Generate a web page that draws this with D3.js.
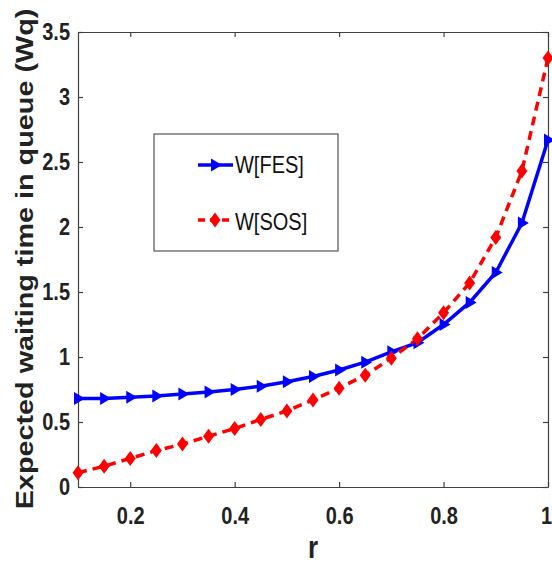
<!DOCTYPE html>
<html>
<head>
<meta charset="utf-8">
<script src="https://cdn.jsdelivr.net/npm/d3@7"></script>
<style>
  body { margin: 0; background: #fff; }
  text { font-family: "Liberation Sans", Arial, sans-serif; }
</style>
</head>
<body>
<svg width="552" height="565"></svg>
<script>
// data
const rValues = [0.1, 0.15, 0.2, 0.25, 0.3, 0.35, 0.4, 0.45, 0.5, 0.55, 0.6, 0.65, 0.7, 0.75, 0.8, 0.85, 0.9, 0.95, 1.0];
const wFES = [0.68, 0.68, 0.69, 0.70, 0.715, 0.73, 0.75, 0.775, 0.81, 0.85, 0.90, 0.96, 1.04, 1.11, 1.25, 1.42, 1.65, 2.03, 2.67];
const wSOS = [0.11, 0.16, 0.22, 0.28, 0.33, 0.39, 0.45, 0.52, 0.585, 0.67, 0.76, 0.86, 0.99, 1.14, 1.34, 1.57, 1.92, 2.43, 3.3];
const xTicks = [0.2, 0.4, 0.6, 0.8, 1];
const yTicks = [0, 0.5, 1, 1.5, 2, 2.5, 3, 3.5];
const seriesNames = ["W[FES]", "W[SOS]"];

const svg = d3.select("svg");
const margin = {top: 32, right: 4, bottom: 78, left: 78};
const width = 552 - margin.left - margin.right;
const height = 565 - margin.top - margin.bottom;
const stretch = 1.2; // the source figure is a bit taller than wide, text looks stretched

const g = svg.append("g").attr("transform", `translate(${margin.left},${margin.top})`);

const x = d3.scaleLinear().domain([0.1, 1]).range([0, width]);
const y = d3.scaleLinear().domain([0, 3.5]).range([height, 0]);

// axes with inward ticks (box style)
const axisColor = "#404040";
const fmt = d => d3.format("")(d);
const xAxis = g.append("g").attr("transform", `translate(0,${height})`)
  .call(d3.axisBottom(x).tickValues(xTicks).tickSizeInner(-5).tickSizeOuter(0).tickPadding(20 / stretch).tickFormat(fmt));
const yAxis = g.append("g")
  .call(d3.axisLeft(y).tickValues(yTicks).tickSizeInner(-5).tickSizeOuter(0).tickPadding(8).tickFormat(fmt));
g.append("g")
  .call(d3.axisTop(x).tickValues(xTicks).tickSizeInner(-5).tickSizeOuter(0).tickFormat(""));
g.append("g").attr("transform", `translate(${width},0)`)
  .call(d3.axisRight(y).tickValues(yTicks).tickSizeInner(-5).tickSizeOuter(0).tickFormat(""));

g.selectAll(".domain").attr("stroke", axisColor).attr("stroke-width", 1.2);
g.selectAll(".tick line").attr("stroke", axisColor).attr("stroke-width", 1.2);
g.selectAll(".tick text")
  .attr("fill", "#222")
  .attr("transform", `scale(1,${stretch})`)
  .style("font-size", "20px")
  .style("font-weight", "bold");
// last x label sits right on the page edge, nudge it in a little
xAxis.selectAll(".tick text").filter(d => d === 1).attr("dx", -2);

// axis labels
svg.append("text")
  .attr("transform", `translate(${margin.left + x(0.55)},558) scale(1,${stretch})`)
  .attr("text-anchor", "middle")
  .style("font-size", "26px")
  .style("font-weight", "bold")
  .attr("fill", "#222")
  .text("r");

svg.append("text")
  .attr("transform", `translate(33,259) rotate(-90) scale(${stretch},1)`)
  .attr("text-anchor", "middle")
  .style("font-size", "24px")
  .style("font-weight", "bold")
  .attr("fill", "#222")
  .text("Expected waiting time in queue (Wq)");

// lines
const line = data => d3.line().x((d, i) => x(rValues[i])).y(d => y(d))(data);

g.append("path")
  .attr("d", line(wFES))
  .attr("fill", "none")
  .attr("stroke", "#0000ff")
  .attr("stroke-width", 3.5);

g.append("path")
  .attr("d", line(wSOS))
  .attr("fill", "none")
  .attr("stroke", "#ff0000")
  .attr("stroke-width", 3.5)
  .attr("stroke-dasharray", "9,6");

// markers
const triPath = "M-4,-6.5 L7,0 L-4,6.5 Z";
const diaPath = "M0,-7.5 L5.5,0 L0,7.5 L-5.5,0 Z";

g.selectAll(".fes").data(wFES).join("path")
  .attr("class", "fes")
  .attr("d", triPath)
  .attr("transform", (d, i) => `translate(${x(rValues[i])},${y(d)})`)
  .attr("fill", "#0000ff");

g.selectAll(".sos").data(wSOS).join("path")
  .attr("class", "sos")
  .attr("d", diaPath)
  .attr("transform", (d, i) => `translate(${x(rValues[i])},${y(d)})`)
  .attr("fill", "#ff0000");

// legend
const legend = svg.append("g").attr("transform", "translate(154,134)");
legend.append("rect")
  .attr("width", 184).attr("height", 117)
  .attr("fill", "#fff").attr("stroke", "#555").attr("stroke-width", 1.2);

const legendRows = [
  {name: seriesNames[0], color: "#0000ff", dash: null, marker: triPath, y: 31, base: 39},
  {name: seriesNames[1], color: "#ff0000", dash: "7,5", marker: diaPath, y: 86, base: 96}
];
legendRows.forEach(rw => {
  legend.append("line")
    .attr("x1", 44).attr("x2", 79).attr("y1", rw.y).attr("y2", rw.y)
    .attr("stroke", rw.color).attr("stroke-width", 3.5)
    .attr("stroke-dasharray", rw.dash);
  legend.append("path")
    .attr("d", rw.marker)
    .attr("transform", `translate(61,${rw.y})`)
    .attr("fill", rw.color);
  legend.append("text")
    .attr("transform", `translate(81,${rw.base}) scale(1,${stretch})`)
    .style("font-size", "20px")
    .style("font-weight", "500")
    .attr("fill", "#111")
    .text(rw.name);
});
</script>
</body>
</html>
